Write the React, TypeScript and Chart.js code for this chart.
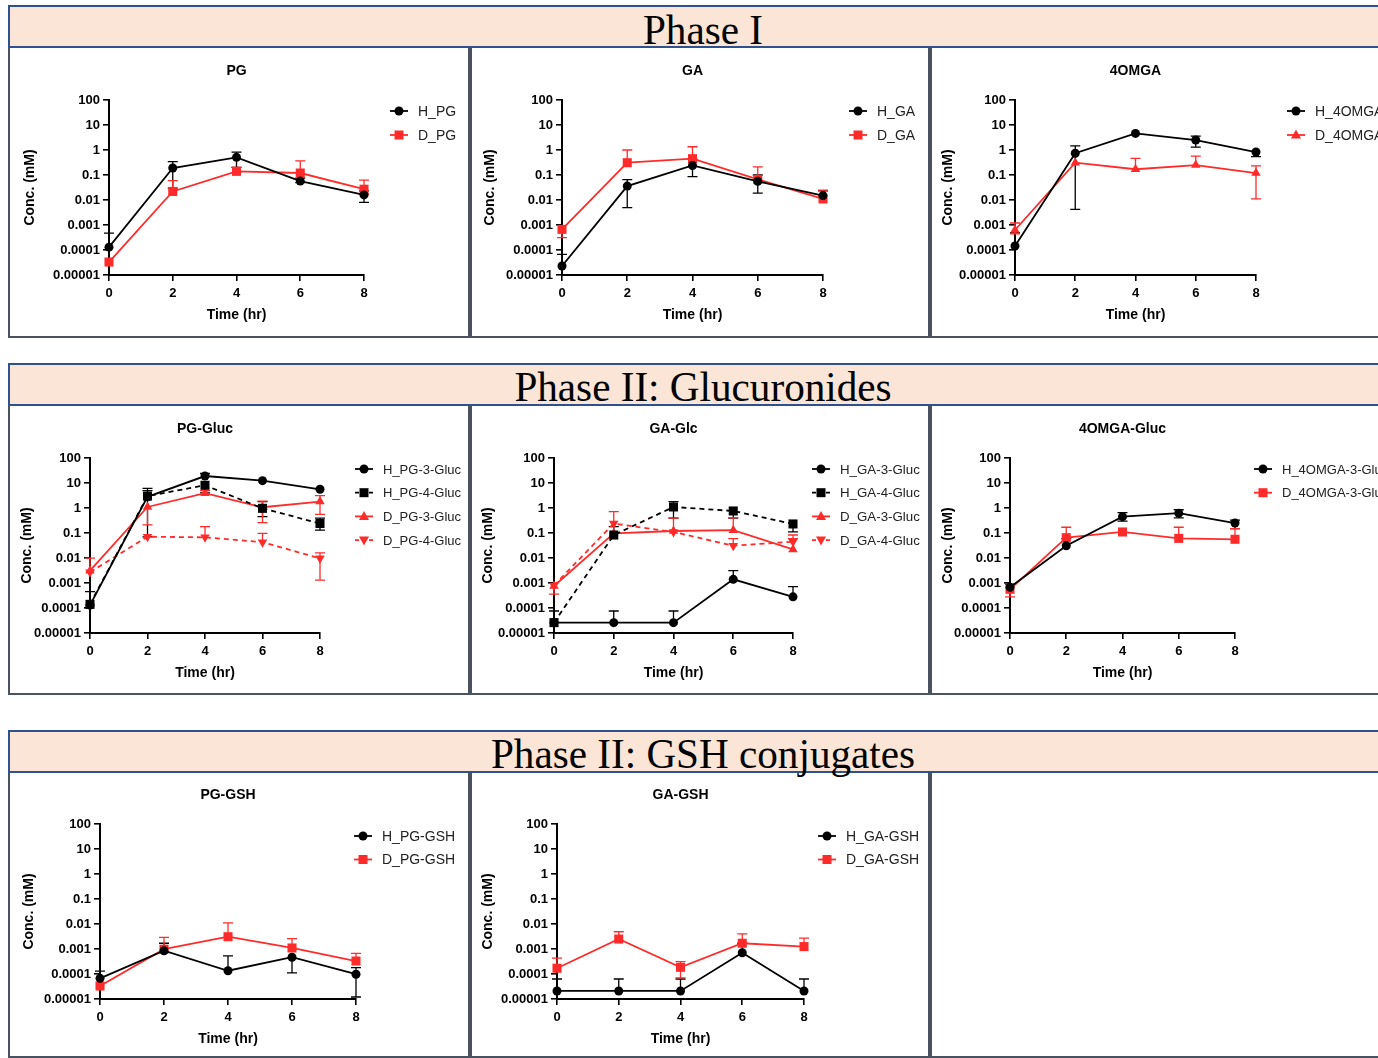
import React, { useEffect, useRef } from 'react';
import { Chart, registerables } from 'chart.js';

Chart.register(...registerables);

// ---------------- shared axes ----------------
const TIMES = [0, 2, 4, 6, 8];
const X_TICKS = [0, 2, 4, 6, 8];
const Y_TICKS = [100, 10, 1, 0.1, 0.01, 0.001, 0.0001, 0.00001];
const Y_TICK_LABELS = ['100', '10', '1', '0.1', '0.01', '0.001', '0.0001', '0.00001'];
const X_TITLE = 'Time (hr)';
const Y_TITLE = 'Conc. (mM)';
const SECTION_TITLES = ['Phase I', 'Phase II: Glucuronides', 'Phase II: GSH conjugates'];

// ---------------- Phase I ----------------
const PG_H = [1.3e-4, 0.19, 0.51, 0.057, 0.016];
const PG_H_HI = [4.7e-4, 0.34, 0.82, 0.075, 0.023];
const PG_H_LO = [null, 0.03, 0.2, 0.05, 0.008];
const PG_D = [3.3e-5, 0.022, 0.14, 0.12, 0.027];
const PG_D_HI = [null, 0.06, 0.2, 0.37, 0.062];
const PG_D_LO = [null, null, null, null, 0.017];

const GA_H = [2.3e-5, 0.036, 0.24, 0.056, 0.015];
const GA_H_HI = [6.7e-5, 0.065, 0.42, 0.1, 0.023];
const GA_H_LO = [null, 0.005, 0.086, 0.019, null];
const GA_D = [6.7e-4, 0.31, 0.45, 0.067, 0.011];
const GA_D_HI = [null, 1.0, 1.35, 0.21, 0.025];
const GA_D_LO = [3.1e-4, null, null, null, null];

const OMGA_H = [1.45e-4, 0.74, 4.6, 2.5, 0.83];
const OMGA_H_HI = [4.9e-4, 1.45, null, 3.6, null];
const OMGA_H_LO = [null, 0.0042, null, 1.3, 0.54];
const OMGA_D = [6.3e-4, 0.31, 0.17, 0.25, 0.12];
const OMGA_D_HI = [1.2e-3, null, 0.46, 0.57, 0.23];
const OMGA_D_LO = [4.4e-4, null, null, null, 0.011];

// ---------------- Phase II: glucuronides ----------------
const PGG_H3 = [1.3e-4, 2.8, 19, 12.4, 5.6];
const PGG_H3_HI = [4.5e-4, 6.1, 24, null, null];
const PGG_H3_LO = [null, null, null, null, null];
const PGG_H4 = [1.4e-4, 3.0, 8.1, 0.97, 0.24];
const PGG_H4_HI = [null, 5.0, null, 1.8, 0.39];
const PGG_H4_LO = [null, 0.07, 4.0, 0.45, 0.13];
const PGG_D3 = [3.1e-3, 1.1, 3.9, 1.07, 1.8];
const PGG_D3_HI = [9.8e-3, null, 5.0, 1.9, 3.1];
const PGG_D3_LO = [null, 0.21, null, 0.26, 0.56];
const PGG_D4 = [2.7e-3, 0.071, 0.067, 0.043, 0.0097];
const PGG_D4_HI = [null, null, 0.18, 0.097, 0.016];
const PGG_D4_LO = [null, null, null, null, 0.0013];

const GAG_H3 = [2.6e-5, 2.6e-5, 2.6e-5, 1.4e-3, 2.8e-4];
const GAG_H3_HI = [7.6e-5, 7.6e-5, 7.6e-5, 3.1e-3, 7.1e-4];
const GAG_H3_LO = [null, null, null, null, null];
const GAG_H4 = [2.6e-5, 0.083, 1.1, 0.76, 0.23];
const GAG_H4_HI = [null, 0.18, 1.8, null, null];
const GAG_H4_LO = [null, null, 0.39, 0.39, 0.11];
const GAG_D3 = [7.6e-4, 0.097, 0.12, 0.13, 0.022];
const GAG_D3_HI = [null, null, 0.39, 0.4, 0.06];
const GAG_D3_LO = [3.6e-4, null, null, null, null];
const GAG_D4 = [8.0e-4, 0.24, 0.11, 0.031, 0.045];
const GAG_D4_HI = [null, 0.71, null, 0.06, 0.083];
const GAG_D4_LO = [null, null, null, null, null];

const OMG_H = [6.7e-4, 0.031, 0.45, 0.62, 0.25];
const OMG_H_HI = [9.0e-4, 0.06, 0.65, 0.85, 0.33];
const OMG_H_LO = [null, null, 0.3, 0.4, 0.15];
const OMG_D = [5.6e-4, 0.065, 0.11, 0.061, 0.056];
const OMG_D_HI = [null, 0.17, null, 0.17, 0.15];
const OMG_D_LO = [2.8e-4, null, null, null, null];

// ---------------- Phase II: GSH conjugates ----------------
const PGS_H = [6.7e-5, 8.5e-4, 1.35e-4, 4.7e-4, 9.8e-5];
const PGS_H_HI = [1.3e-4, 1.7e-3, 5.3e-4, null, 1.8e-4];
const PGS_H_LO = [null, null, null, 1.1e-4, 1.2e-5];
const PGS_D = [3.3e-5, 9.8e-4, 3.1e-3, 1.1e-3, 3.3e-4];
const PGS_D_HI = [null, 2.9e-3, 0.011, 2.6e-3, 6.7e-4];
const PGS_D_LO = [null, null, null, null, null];

const GAS_H = [2.1e-5, 2.1e-5, 2.1e-5, 7.1e-4, 2.1e-5];
const GAS_H_HI = [6.3e-5, 6.3e-5, 6.3e-5, 1.7e-3, 6.3e-5];
const GAS_H_LO = [null, null, null, null, null];
const GAS_D = [1.7e-4, 2.5e-3, 1.85e-4, 1.7e-3, 1.25e-3];
const GAS_D_HI = [4.3e-4, 4.9e-3, 3.1e-4, 4.0e-3, 2.7e-3];
const GAS_D_LO = [null, null, 7.0e-5, null, null];

// ---------------- styling ----------------
const BLACK = '#000000';
const RED = '#ff2b2b';
const SANS = "'Liberation Sans', Arial, sans-serif";
const SERIF = "'Liberation Serif', 'Times New Roman', serif";
const HEADER_BORDER = '#2f528f';
const HEADER_FILL = '#fbe5d6';
const PANEL_BORDER = '#4a5260';

type Series = {
  label: string; data: number[]; hi: (number | null)[]; lo: (number | null)[];
  color: string; shape: 'circle' | 'rect' | 'triangle' | 'triangleDown'; dashed?: boolean;
};

type PanelCfg = {
  title: string; left: number; top: number; width: number; height: number;
  axisX: number; topY: number; botY: number; x8: number; yTitleX: number;
  legendX: number; legendY: number; legendStep: number; legendFont: number; series: Series[];
};

const s = (label, data, hi, lo, color, shape, dashed = false): Series => ({ label, data, hi, lo, color, shape, dashed });

const PANELS: PanelCfg[] = [
  { title: 'PG', left: 8, top: 48, width: 462, height: 290, axisX: 109, topY: 100, botY: 275, x8: 364, yTitleX: 30,
    legendX: 390, legendY: 111, legendStep: 24, legendFont: 14,
    series: [s('H_PG', PG_H, PG_H_HI, PG_H_LO, BLACK, 'circle'), s('D_PG', PG_D, PG_D_HI, PG_D_LO, RED, 'rect')] },
  { title: 'GA', left: 470, top: 48, width: 460, height: 290, axisX: 562, topY: 100, botY: 275, x8: 823, yTitleX: 490,
    legendX: 849, legendY: 111, legendStep: 24, legendFont: 14,
    series: [s('H_GA', GA_H, GA_H_HI, GA_H_LO, BLACK, 'circle'), s('D_GA', GA_D, GA_D_HI, GA_D_LO, RED, 'rect')] },
  { title: '4OMGA', left: 930, top: 48, width: 460, height: 290, axisX: 1015, topY: 100, botY: 275, x8: 1256, yTitleX: 948,
    legendX: 1287, legendY: 111, legendStep: 24, legendFont: 14,
    series: [s('H_4OMGA', OMGA_H, OMGA_H_HI, OMGA_H_LO, BLACK, 'circle'), s('D_4OMGA', OMGA_D, OMGA_D_HI, OMGA_D_LO, RED, 'triangle')] },
  { title: 'PG-Gluc', left: 8, top: 405, width: 462, height: 290, axisX: 90, topY: 458, botY: 633, x8: 320, yTitleX: 27,
    legendX: 355, legendY: 469, legendStep: 23.7, legendFont: 13,
    series: [
      s('H_PG-3-Gluc', PGG_H3, PGG_H3_HI, PGG_H3_LO, BLACK, 'circle'),
      s('H_PG-4-Gluc', PGG_H4, PGG_H4_HI, PGG_H4_LO, BLACK, 'rect', true),
      s('D_PG-3-Gluc', PGG_D3, PGG_D3_HI, PGG_D3_LO, RED, 'triangle'),
      s('D_PG-4-Gluc', PGG_D4, PGG_D4_HI, PGG_D4_LO, RED, 'triangleDown', true),
    ] },
  { title: 'GA-Glc', left: 470, top: 405, width: 460, height: 290, axisX: 554, topY: 458, botY: 633, x8: 793, yTitleX: 488,
    legendX: 812, legendY: 469, legendStep: 23.7, legendFont: 13.3,
    series: [
      s('H_GA-3-Gluc', GAG_H3, GAG_H3_HI, GAG_H3_LO, BLACK, 'circle'),
      s('H_GA-4-Gluc', GAG_H4, GAG_H4_HI, GAG_H4_LO, BLACK, 'rect', true),
      s('D_GA-3-Gluc', GAG_D3, GAG_D3_HI, GAG_D3_LO, RED, 'triangle'),
      s('D_GA-4-Gluc', GAG_D4, GAG_D4_HI, GAG_D4_LO, RED, 'triangleDown', true),
    ] },
  { title: '4OMGA-Gluc', left: 930, top: 405, width: 460, height: 290, axisX: 1010, topY: 458, botY: 633, x8: 1235, yTitleX: 948,
    legendX: 1254, legendY: 469, legendStep: 23.7, legendFont: 13,
    series: [
      s('H_4OMGA-3-Gluc', OMG_H, OMG_H_HI, OMG_H_LO, BLACK, 'circle'),
      s('D_4OMGA-3-Gluc', OMG_D, OMG_D_HI, OMG_D_LO, RED, 'rect'),
    ] },
  { title: 'PG-GSH', left: 8, top: 773, width: 462, height: 285, axisX: 100, topY: 824, botY: 999, x8: 356, yTitleX: 29,
    legendX: 354, legendY: 836, legendStep: 23.5, legendFont: 14,
    series: [s('H_PG-GSH', PGS_H, PGS_H_HI, PGS_H_LO, BLACK, 'circle'), s('D_PG-GSH', PGS_D, PGS_D_HI, PGS_D_LO, RED, 'rect')] },
  { title: 'GA-GSH', left: 470, top: 773, width: 460, height: 285, axisX: 557, topY: 824, botY: 999, x8: 804, yTitleX: 488,
    legendX: 818, legendY: 836, legendStep: 23.5, legendFont: 14,
    series: [s('H_GA-GSH', GAS_H, GAS_H_HI, GAS_H_LO, BLACK, 'circle'), s('D_GA-GSH', GAS_D, GAS_D_HI, GAS_D_LO, RED, 'rect')] },
];

const EMPTY_PANEL = { left: 930, top: 773, width: 460, height: 285 };

const HEADERS = [
  { top: 5, height: 43, textTop: 3 },
  { top: 363, height: 43, textTop: 2 },
  { top: 730, height: 43, textTop: 2 },
];

function drawMarker(ctx, shape, x, y, color) {
  ctx.save();
  ctx.setLineDash([]);
  ctx.fillStyle = color;
  ctx.beginPath();
  if (shape === 'circle') ctx.arc(x, y, 4.5, 0, Math.PI * 2);
  else if (shape === 'rect') ctx.rect(x - 4.5, y - 4.5, 9, 9);
  else if (shape === 'triangle') { ctx.moveTo(x, y - 5.5); ctx.lineTo(x + 5, y + 3.5); ctx.lineTo(x - 5, y + 3.5); ctx.closePath(); }
  else { ctx.moveTo(x, y + 5.5); ctx.lineTo(x + 5, y - 3.5); ctx.lineTo(x - 5, y - 3.5); ctx.closePath(); }
  ctx.fill();
  ctx.restore();
}

const decoPlugin = {
  id: 'deco',
  beforeDatasetsDraw(chart, _args, opts) {
    const ctx = chart.ctx;
    const xs = chart.scales.x;
    const ys = chart.scales.y;
    (opts.series || []).forEach((ser: Series) => {
      ctx.save();
      ctx.strokeStyle = ser.color;
      ctx.lineWidth = 1.3;
      ctx.setLineDash([]);
      ser.data.forEach((v, i) => {
        const x = xs.getPixelForValue(TIMES[i]);
        const y = ys.getPixelForValue(v);
        [ser.hi[i], ser.lo[i]].forEach((e) => {
          if (e == null) return;
          const ye = ys.getPixelForValue(e);
          ctx.beginPath();
          ctx.moveTo(x, y); ctx.lineTo(x, ye);
          ctx.moveTo(x - 5, ye); ctx.lineTo(x + 5, ye);
          ctx.stroke();
        });
      });
      ctx.restore();
    });
  },
  afterDraw(chart, _args, opts) {
    const ctx = chart.ctx;
    const ca = chart.chartArea;
    ctx.save();
    ctx.fillStyle = '#000';
    ctx.font = `bold 14px ${SANS}`;
    ctx.textAlign = 'center';
    ctx.textBaseline = 'middle';
    ctx.fillText(opts.title, (ca.left + ca.right) / 2, ca.top - 29);
    // legend
    ctx.font = `${opts.legendFont}px ${SANS}`;
    ctx.textAlign = 'left';
    (opts.series || []).forEach((ser: Series, k) => {
      const y = opts.legendY + k * opts.legendStep;
      const x0 = opts.legendX;
      ctx.strokeStyle = ser.color;
      ctx.lineWidth = 1.8;
      ctx.setLineDash(ser.dashed ? [4, 3] : []);
      ctx.beginPath();
      ctx.moveTo(x0, y); ctx.lineTo(x0 + 18, y);
      ctx.stroke();
      drawMarker(ctx, ser.shape, x0 + 9, y, ser.color);
      ctx.fillStyle = '#222';
      ctx.fillText(ser.label, x0 + 28, y + 1);
    });
    ctx.restore();
  },
};

function ChartPanel({ cfg }: { cfg: PanelCfg }) {
  const ref = useRef<HTMLCanvasElement | null>(null);
  useEffect(() => {
    const W = cfg.axisX - cfg.yTitleX + 8.4;
    const H = 49;
    const chart = new Chart(ref.current as HTMLCanvasElement, {
      type: 'line',
      data: {
        datasets: cfg.series.map((ser) => ({
          label: ser.label,
          data: ser.data.map((v, i) => ({ x: TIMES[i], y: v })),
          borderColor: ser.color,
          backgroundColor: ser.color,
          borderWidth: 1.8,
          borderDash: ser.dashed ? [5, 4] : [],
          pointStyle: ser.shape === 'triangleDown' ? 'triangle' : ser.shape,
          pointRotation: ser.shape === 'triangleDown' ? 180 : 0,
          pointRadius: ser.shape === 'rect' ? 6.4 : ser.shape === 'circle' ? 4.5 : 5.5,
          pointBorderWidth: 0,
          pointBackgroundColor: ser.color,
          pointBorderColor: ser.color,
          tension: 0,
          clip: false as any,
        })),
      },
      options: {
        animation: false,
        responsive: false,
        devicePixelRatio: 1,
        events: [],
        layout: {
          padding: {
            left: cfg.axisX - cfg.left - W,
            top: cfg.topY - cfg.top,
            right: cfg.left + cfg.width - cfg.x8,
            bottom: cfg.top + cfg.height - cfg.botY - H,
          },
        },
        plugins: {
          legend: { display: false },
          tooltip: { enabled: false },
          deco: {
            title: cfg.title, series: cfg.series, legendX: cfg.legendX - cfg.left, legendY: cfg.legendY - cfg.top,
            legendStep: cfg.legendStep, legendFont: cfg.legendFont,
          },
        } as any,
        scales: {
          x: {
            type: 'linear', min: 0, max: 8,
            afterBuildTicks: (sc) => { sc.ticks = X_TICKS.map((v) => ({ value: v })); },
            afterFit: (sc) => { sc.height = H; },
            ticks: { color: '#000', font: { family: SANS, size: 13, weight: 'bold' }, padding: 5, autoSkip: false, maxRotation: 0 },
            grid: { display: true, drawOnChartArea: false, drawTicks: true, tickLength: 6, color: '#000', lineWidth: 1.6 },
            border: { display: true, color: '#000', width: 2 },
            title: { display: true, text: X_TITLE, color: '#000', font: { family: SANS, size: 14, weight: 'bold' }, padding: { top: 0, bottom: 0 } },
          },
          y: {
            type: 'logarithmic', min: 0.00001, max: 100,
            afterBuildTicks: (sc) => { sc.ticks = Y_TICKS.map((v) => ({ value: v, major: true })); },
            afterFit: (sc) => { sc.width = W; },
            ticks: {
              color: '#000', font: { family: SANS, size: 13, weight: 'bold' }, padding: 3, autoSkip: false,
              callback: (v) => { const i = Y_TICKS.indexOf(Number(v)); return i >= 0 ? Y_TICK_LABELS[i] : ''; },
            },
            grid: { display: true, drawOnChartArea: false, drawTicks: true, tickLength: 6, color: '#000', lineWidth: 1.6 },
            border: { display: true, color: '#000', width: 2 },
            title: { display: true, text: Y_TITLE, color: '#000', font: { family: SANS, size: 14, weight: 'bold' }, padding: { top: 0, bottom: 0 } },
          },
        },
      } as any,
      plugins: [decoPlugin],
    });
    return () => chart.destroy();
  }, [cfg]);
  return (
    <canvas
      ref={ref}
      width={cfg.width}
      height={cfg.height}
      style={{ position: 'absolute', left: cfg.left, top: cfg.top, width: cfg.width, height: cfg.height }}
    />
  );
}

export default function App() {
  return (
    <div style={{ position: 'fixed', left: 0, top: 0, width: 1378, height: 1058, overflow: 'hidden', background: '#fff' }}>
      {HEADERS.map((h, i) => (
        <div key={'h' + i} style={{
          position: 'absolute', left: 8, top: h.top, width: 1390, height: h.height, boxSizing: 'border-box',
          background: HEADER_FILL, border: `2px solid ${HEADER_BORDER}`,
        }}>
          <div style={{
            position: 'absolute', left: 701 - 8 - 300, width: 600, top: h.textTop, textAlign: 'center',
            fontFamily: SERIF, fontSize: 42, lineHeight: '40px', color: '#000', whiteSpace: 'pre',
            transform: 'scaleX(0.98)',
          }}>{SECTION_TITLES[i]}</div>
        </div>
      ))}
      {[...PANELS, EMPTY_PANEL].map((p, i) => (
        <div key={'p' + i} style={{
          position: 'absolute', left: p.left, top: p.top, width: p.width, height: p.height, boxSizing: 'border-box',
          border: `2px solid ${PANEL_BORDER}`, borderTop: 'none',
        }} />
      ))}
      {PANELS.map((p, i) => <ChartPanel key={'c' + i} cfg={p} />)}
    </div>
  );
}
